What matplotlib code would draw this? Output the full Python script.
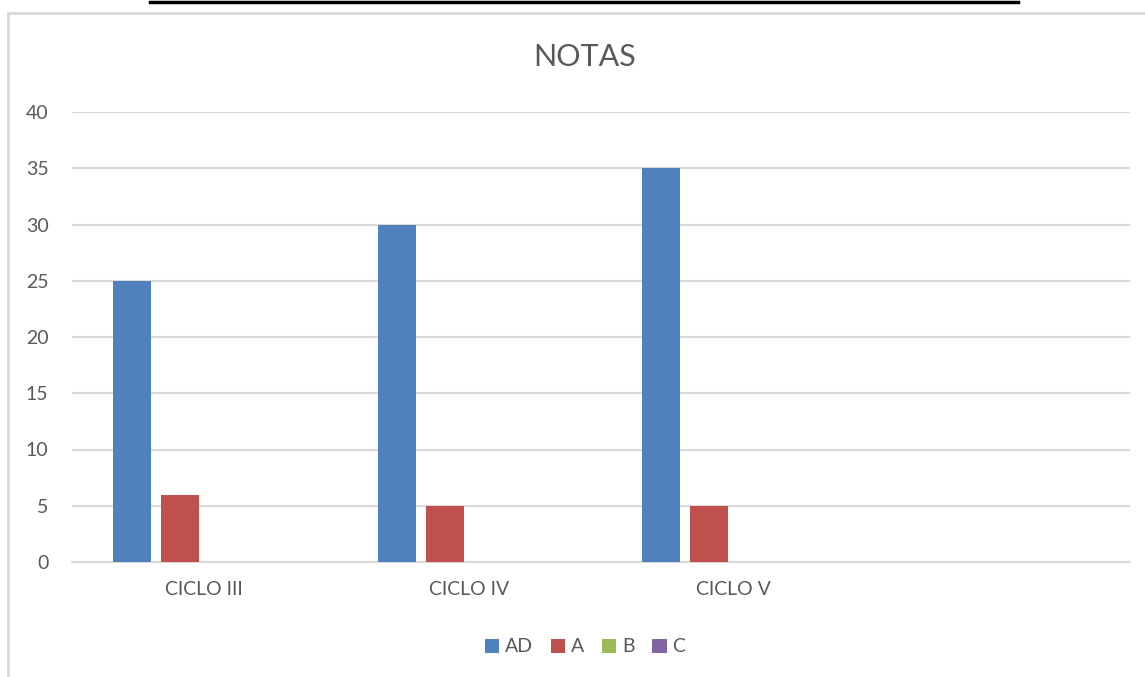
import matplotlib
matplotlib.use("Agg")
import matplotlib.pyplot as plt
import numpy as np
from matplotlib.lines import Line2D
from matplotlib.patches import Rectangle

plt.rcParams['font.family'] = ['Lato', 'DejaVu Sans']

categories = ['CICLO III', 'CICLO IV', 'CICLO V', '']
series = ['AD', 'A', 'B', 'C']
values = {
    'AD': [25, 30, 35, 0],
    'A': [6, 5, 5, 0],
    'B': [0, 0, 0, 0],
    'C': [0, 0, 0, 0],
}
colors = ['#4f81bd', '#c0504d', '#9bbb59', '#8064a2']
yticks = [0, 5, 10, 15, 20, 25, 30, 35, 40]

W, H = 1145, 677
fig = plt.figure(figsize=(W / 100, H / 100), dpi=100)

# chart border (light gray, as in the Excel frame)
fig.add_artist(Rectangle((8 / W, -0.1), 1.2, 1 - 13 / H + 0.1, transform=fig.transFigure,
                         fill=False, edgecolor='#d9d9d9', linewidth=2))
# black line at top of the page
fig.add_artist(Line2D([150 / W, 1018 / W], [1 - 1.5 / H] * 2, transform=fig.transFigure,
                      color='black', linewidth=2.5))

ax = fig.add_axes([72 / W, 1 - 562 / H, 1058 / W, 450 / H])
x = np.arange(len(categories))
bw = 0.1437
step = 0.1815
for i, s in enumerate(series):
    ax.bar(x + (i - 1.5) * step, values[s], width=bw, color=colors[i], label=s, zorder=3)

ax.set_xlim(-0.5, len(categories) - 0.5)
ax.set_ylim(0, 40)
ax.set_yticks(yticks)
ax.set_xticks(x)
ax.set_xticklabels(categories)
ax.grid(axis='y', color='#d9d9d9', linewidth=1.5, zorder=0)
for sp in ['top', 'right', 'left']:
    ax.spines[sp].set_visible(False)
ax.spines['bottom'].set_color('#d9d9d9')
ax.spines['bottom'].set_linewidth(1.5)
ax.tick_params(axis='both', length=0, colors='#595959', labelsize=14)
ax.tick_params(axis='y', pad=17)
ax.tick_params(axis='x', pad=14)

fig.text(585 / W, 1 - 57 / H, 'NOTAS', ha='center', va='center', fontsize=22, color='#595959')

leg = fig.legend(loc='center', bbox_to_anchor=(585 / W, 1 - 647 / H), ncol=4, frameon=False,
                 fontsize=14, handlelength=0.75, handleheight=0.75, handletextpad=0.3,
                 columnspacing=0.9, labelcolor='#595959')

fig.savefig('out.png', dpi=100)
